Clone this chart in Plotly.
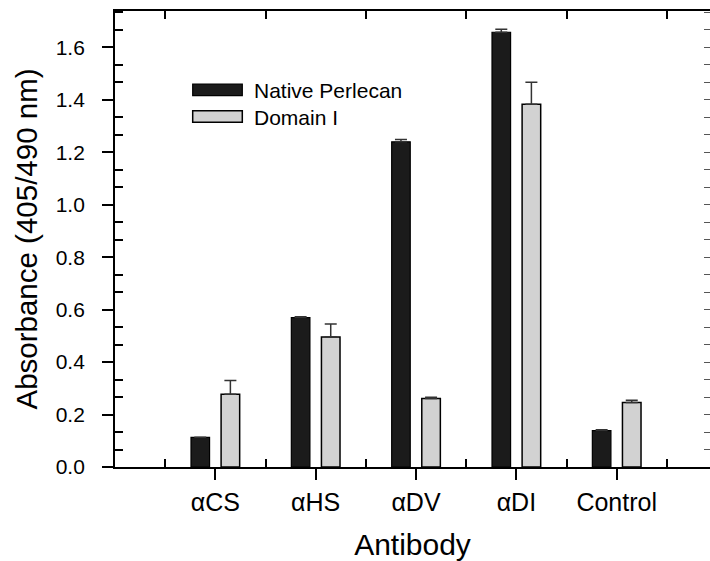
import plotly.graph_objects as go

# ---- data ----
categories = ["\u03b1CS", "\u03b1HS", "\u03b1DV", "\u03b1DI", "Control"]
cat_pos = [1, 2, 3, 4, 5]
native_perlecan = [0.113, 0.570, 1.240, 1.658, 0.139]
native_err = [0.0, 0.003, 0.009, 0.011, 0.003]
domain_i = [0.277, 0.496, 0.261, 1.383, 0.246]
domain_err = [0.053, 0.049, 0.005, 0.084, 0.009]
series_names = ["Native Perlecan", "Domain I"]
y_major = [0.0, 0.2, 0.4, 0.6, 0.8, 1.0, 1.2, 1.4, 1.6]
y_major_text = ["0.0", "0.2", "0.4", "0.6", "0.8", "1.0", "1.2", "1.4", "1.6"]

FONT = "Liberation Sans, Arial, Helvetica, sans-serif"
DARK = "#1b1b1b"
LIGHT = "#d2d2d2"

xr = [0, 5.93]
yr = [0, 1.739]

y_minor = [round(i * 0.2 / 3, 5) for i in range(0, 27) if i % 3 != 0]
x_half = [0.5, 1.5, 2.5, 3.5, 4.5, 5.5]

fig = go.Figure()
fig.add_trace(go.Bar(
    x=cat_pos, y=native_perlecan, name=series_names[0],
    marker=dict(color=DARK, line=dict(color="black", width=1.2)),
    error_y=dict(type="data", array=native_err, arrayminus=[0]*5, symmetric=False,
                 color="#333333", thickness=1.5, width=6),
    showlegend=False,
))
fig.add_trace(go.Bar(
    x=cat_pos, y=domain_i, name=series_names[1],
    marker=dict(color=LIGHT, line=dict(color="black", width=1.5)),
    error_y=dict(type="data", array=domain_err, arrayminus=[0]*5, symmetric=False,
                 color="#333333", thickness=1.5, width=6),
    showlegend=False,
))
# carriers for the mirrored (top / right) axes
fig.add_trace(go.Scatter(x=[], y=[], xaxis="x2", yaxis="y2", showlegend=False))

fig.update_layout(
    width=710, height=561,
    margin=dict(l=115, r=0, t=11, b=94),
    paper_bgcolor="white", plot_bgcolor="white",
    barmode="group", bargap=0.4, bargroupgap=0.383,
    font=dict(family=FONT, color="black"),
    xaxis=dict(
        range=xr, tickmode="array", tickvals=cat_pos, ticktext=categories,
        ticks="outside", ticklen=11, tickwidth=1.8, tickcolor="black",
        tickfont=dict(size=25, family=FONT), ticklabelstandoff=1,
        showline=True, linecolor="black", linewidth=1.8,
        showgrid=False, zeroline=False,
        minor=dict(tickmode="array", tickvals=x_half, ticks="inside", ticklen=8,
                   tickwidth=1.8, tickcolor="black", showgrid=False),
        title=dict(text="Antibody", font=dict(size=30, family=FONT), standoff=20),
    ),
    yaxis=dict(
        range=yr, tickmode="array", tickvals=y_major, ticktext=y_major_text,
        ticks="outside", ticklen=11, tickwidth=1.5, tickcolor="black",
        tickfont=dict(size=21, family=FONT), ticklabelstandoff=13,
        showline=True, linecolor="black", linewidth=1.8,
        showgrid=False, zeroline=False,
        minor=dict(tickmode="array", tickvals=y_minor, ticks="inside", ticklen=8,
                   tickwidth=1.5, tickcolor="black", showgrid=False),
        title=dict(text="Absorbance (405/490 nm)", font=dict(size=29.5, family=FONT), standoff=9),
    ),
    xaxis2=dict(
        overlaying="x", side="top", anchor="y", range=xr,
        tickmode="array", tickvals=x_half, ticks="inside", ticklen=8,
        tickwidth=1.8, tickcolor="black", showticklabels=False,
        showline=True, linecolor="black", linewidth=1.8,
        showgrid=False, zeroline=False,
    ),
    yaxis2=dict(
        overlaying="y", side="right", anchor="x", range=yr,
        tickmode="array", tickvals=y_major + y_minor, ticks="inside", ticklen=6,
        tickwidth=1.3, tickcolor="#555555", showticklabels=False,
        showline=False, showgrid=False, zeroline=False,
    ),
)

# legend drawn as boxes + labels in pixel-matched paper coordinates
W, H = 710, 561
L, T, R, B = 115, 11, 710, 561 - 94
pw, ph = R - L, B - T

def px(xp):
    return (xp - L) / pw

def py(yp):
    return (B - yp) / ph

legend_rows = [(84, 95.7, DARK, 1.2), (110.7, 122.3, LIGHT, 1.5)]
for (y0, y1, col, lw), name in zip(legend_rows, series_names):
    fig.add_shape(type="rect", xref="paper", yref="paper",
                  x0=px(192.7), x1=px(242.3), y0=py(y1), y1=py(y0),
                  fillcolor=col, line=dict(color="black", width=lw))
    fig.add_annotation(xref="paper", yref="paper", x=px(252), y=py((y0 + y1) / 2 + 1),
                       text=name, showarrow=False, xanchor="left", yanchor="middle",
                       font=dict(size=21, family=FONT, color="black"))

fig.write_html("out.html", config={"displayModeBar": False},
               post_script="document.body.style.margin='0px';document.body.style.overflow='hidden';")
